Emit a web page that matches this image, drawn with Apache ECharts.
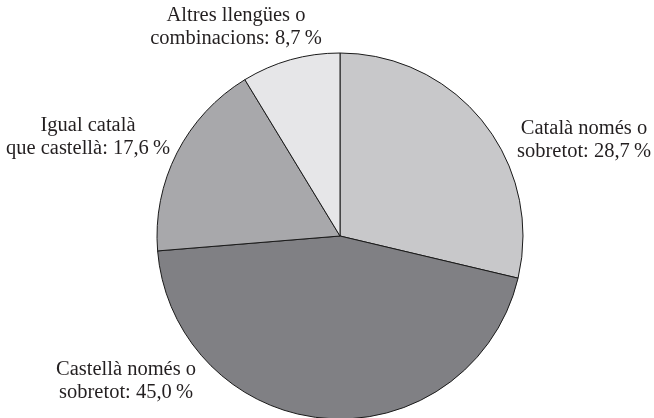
<!DOCTYPE html>
<html>
<head>
<meta charset="utf-8">
<script src="https://cdn.jsdelivr.net/npm/echarts@6/dist/echarts.min.js"></script>
<style>html,body{margin:0;padding:0;background:#fff;}#c{width:654px;height:418px;}</style>
</head>
<body>
<div id="c"></div>
<script>
const categories = ['Català només o\nsobretot', 'Castellà només o\nsobretot', 'Igual català\nque castellà', 'Altres llengües o\ncombinacions'];
const values = [28.7, 45.0, 17.6, 8.7];
const colors = ['#c8c8ca', '#808084', '#a8a8ab', '#e6e6e8'];
const labelPos = [[584, 140], [126, 381], [88, 137], [236, 27]];

const chart = echarts.init(document.getElementById('c'), null, {renderer: 'canvas'});
const fmt = v => v.toFixed(1).replace('.', ',') + '\u2009%';
chart.setOption({
  animation: false,
  series: [{
    type: 'pie',
    center: [340, 236],
    radius: [0, 183],
    startAngle: 90,
    clockwise: true,
    avoidLabelOverlap: false,
    data: categories.map((c, i) => ({name: c, value: values[i], itemStyle: {color: colors[i]}})),
    itemStyle: {borderColor: '#1a1a1a', borderWidth: 1},
    label: {
      show: true,
      position: 'outside',
      formatter: p => p.name + ': ' + fmt(p.value),
      fontFamily: 'Liberation Serif',
      fontSize: 20.5,
      lineHeight: 23,
      color: '#231f20',
      align: 'center'
    },
    labelLine: {show: false},
    labelLayout: p => ({x: labelPos[p.dataIndex][0], y: labelPos[p.dataIndex][1], align: 'center', verticalAlign: 'middle'}),
    emphasis: {disabled: true}
  }]
});
</script>
</body>
</html>
